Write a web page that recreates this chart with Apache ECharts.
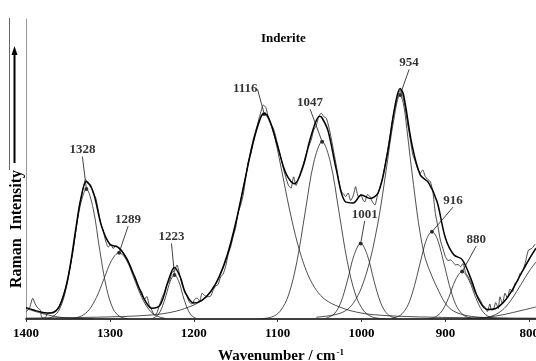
<!DOCTYPE html>
<html>
<head>
<meta charset="utf-8">
<script src="https://cdn.jsdelivr.net/npm/echarts@6/dist/echarts.min.js"></script>
<style>
  html, body { margin: 0; padding: 0; background: #fff; }
  #chart { width: 536px; height: 361px; }
</style>
</head>
<body>
<div id="chart"></div>
<script>
// x axis ticks (wavenumber, cm-1)
const xTicks = [800, 900, 1000, 1100, 1200, 1300, 1400]

// fitted band positions and heights (intensity, arbitrary units)
const peakWn = [1328, 1289, 1223, 1116, 1047, 1001, 954, 916, 880]
const peakHeight = [43.3, 22.1, 14.7, 68.3, 59.1, 25.2, 74.7, 29.1, 15.8]

// measured spectrum [wavenumber, intensity]
const observed = [
  [1400, 2.4], [1396, 3.5], [1392, 6.9], [1389, 5.0], [1386, 3.7], [1383, 3.0], [1381, 0.4], [1377, 0.4],
  [1375, 1.6], [1372, 2.0], [1368, 2.3], [1364, 3.0], [1360, 4.6], [1356, 7.5], [1352, 11.0], [1348, 16.5],
  [1344, 22.5], [1340, 30.5], [1336, 38.0], [1332, 43.5], [1329, 46.5], [1326, 45.0], [1323, 44.8], [1320, 42.0],
  [1317, 40.5], [1314, 36.5], [1311, 32.0], [1308, 29.5], [1305, 26.0], [1302, 24.0], [1299, 24.8], [1296, 23.5],
  [1293, 24.5], [1290, 24.0], [1286, 23.0], [1282, 21.0], [1278, 19.0], [1274, 16.0], [1270, 14.0], [1266, 10.5],
  [1262, 9.0], [1259, 6.5], [1256, 7.5], [1253, 4.5], [1250, 3.0], [1247, 1.3], [1244, 2.0], [1241, 4.5],
  [1238, 7.0], [1235, 9.0], [1232, 11.5], [1229, 12.5], [1226, 15.5], [1223, 16.0], [1220, 18.0], [1217, 15.0],
  [1214, 11.5], [1211, 9.0], [1208, 7.5], [1205, 5.5], [1202, 5.0], [1199, 6.5], [1196, 7.0], [1193, 6.0],
  [1190, 8.6], [1187, 7.8], [1184, 7.4], [1180, 7.6], [1177, 9.5], [1174, 11.0], [1171, 11.5], [1168, 14.0],
  [1165, 15.0], [1162, 17.5], [1159, 21.5], [1156, 24.0], [1153, 27.5], [1150, 30.5], [1147, 35.5], [1144, 38.0],
  [1141, 41.5], [1138, 47.0], [1135, 52.5], [1132, 55.0], [1129, 59.0], [1126, 62.5], [1123, 66.0], [1120, 69.0],
  [1117, 71.3], [1114, 70.5], [1111, 67.0], [1108, 65.0], [1105, 63.5], [1102, 60.5], [1099, 57.0], [1096, 53.5],
  [1093, 50.0], [1090, 47.0], [1087, 44.5], [1084, 43.6], [1081, 47.4], [1078, 44.5], [1075, 47.0], [1072, 49.5],
  [1069, 52.0], [1066, 55.0], [1063, 57.5], [1060, 59.7], [1057, 63.0], [1054, 64.5], [1051, 67.5], [1048, 68.6],
  [1045, 67.5], [1042, 66.9], [1039, 64.0], [1036, 60.0], [1033, 55.5], [1030, 51.0], [1027, 46.0], [1024, 42.5],
  [1021, 41.5], [1019, 40.8], [1016, 42.0], [1013, 39.5], [1010, 41.0], [1007, 44.1], [1004, 40.8], [1001, 41.5],
  [998, 39.5], [996, 39.1], [993, 41.5], [990, 40.8], [987, 39.0], [984, 38.0], [981, 41.3], [978, 44.0],
  [975, 47.0], [972, 51.5], [969, 56.0], [966, 61.0], [963, 66.5], [960, 70.5], [957, 74.0], [954, 76.3],
  [951, 74.5], [948, 70.5], [945, 65.0], [942, 60.0], [939, 55.0], [936, 52.5], [933, 50.0], [930, 48.6],
  [927, 49.7], [924, 47.5], [921, 46.5], [918, 45.8], [915, 42.5], [912, 35.2], [909, 31.0], [906, 26.3],
  [903, 23.5], [900, 20.8], [897, 19.5], [894, 19.7], [891, 19.0], [888, 18.0], [885, 18.2], [882, 17.4],
  [879, 18.5], [876, 15.5], [873, 14.1], [870, 12.5], [867, 10.5], [864, 8.5], [861, 7.4], [858, 6.0],
  [855, 4.5], [853, 4.1], [850, 2.5], [847, 5.0], [845, 3.0], [843, 3.0], [840, 5.5], [837, 3.5],
  [835, 7.4], [832, 5.0], [829, 8.6], [826, 7.0], [823, 10.0], [820, 9.0], [817, 11.9], [814, 12.5],
  [811, 15.2], [808, 16.0], [805, 18.5], [801, 23.0], [797, 23.5], [793, 25.0]
]

// sum of the fitted bands
const fitted = [
  [1400, 3.8], [1390, 2.9], [1380, 2.2], [1370, 2.0], [1360, 4.25], [1350, 13.7], [1340, 31.2], [1335, 39.6],
  [1328, 45.8], [1320, 42.4], [1310, 31.0], [1300, 24.9], [1290, 23.85], [1280, 20.2], [1270, 13.7], [1260, 7.15],
  [1250, 3.6], [1240, 4.7], [1230, 13.1], [1223, 17.2], [1216, 13.9], [1210, 8.8], [1200, 5.3], [1190, 6.3],
  [1180, 9.1], [1170, 13.9], [1160, 21.4], [1150, 32.0], [1140, 45.0], [1130, 58.0], [1120, 67.3], [1116, 68.5],
  [1110, 66.6], [1100, 57.6], [1090, 48.45], [1080, 45.1], [1070, 50.6], [1060, 61.2], [1050, 67.6], [1047, 67.0],
  [1040, 62.8], [1030, 49.7], [1020, 39.3], [1010, 38.7], [1000, 41.3], [990, 40.2], [980, 42.15], [970, 53.85],
  [960, 71.2], [954, 76.85], [950, 74.85], [940, 58.3], [930, 48.05], [920, 45.4], [910, 39.15], [900, 27.0],
  [890, 21.4], [880, 19.8], [870, 13.7], [860, 6.3], [850, 3.15], [840, 3.5], [830, 5.8], [820, 9.8],
  [810, 15.0], [800, 20.0], [792, 23.6]
]

// individual bands
const band1328 = [[1378, 0.1], [1368, 0.8], [1360, 3.3], [1352, 10.3], [1344, 22.8], [1336, 36.9], [1328, 43.3], [1320, 36.9], [1312, 22.8], [1304, 10.3], [1296, 3.3], [1288, 0.8], [1278, 0.1]]
const band1289 = [[1344, 0.2], [1334, 1.0], [1325, 3.0], [1316, 7.2], [1307, 13.4], [1298, 19.5], [1289, 22.1], [1280, 19.5], [1271, 13.4], [1262, 7.2], [1253, 3.0], [1244, 1.0], [1234, 0.2]]
const band1223 = [[1249, 0.2], [1243, 1.25], [1238, 3.7], [1233, 7.9], [1228, 12.6], [1223, 14.7], [1218, 12.6], [1213, 7.9], [1208, 3.7], [1203, 1.25], [1197, 0.2]]
const band1116 = [
  [1400, 0.3], [1366, 0.4], [1316, 0.6], [1286, 0.82], [1266, 1.05], [1246, 1.45], [1236, 1.8], [1226, 2.3],
  [1216, 3.0], [1206, 4.0], [1196, 5.2], [1186, 7.1], [1176, 10.5], [1166, 16.2], [1156, 24.9], [1146, 36.7],
  [1136, 50.6], [1126, 63.0], [1116, 68.3], [1106, 63.0], [1096, 50.6], [1086, 36.7], [1076, 24.9], [1066, 16.2],
  [1056, 10.5], [1046, 7.1], [1036, 5.2], [1026, 4.0], [1016, 3.0], [1006, 2.3], [996, 1.8], [986, 1.45],
  [966, 1.05], [946, 0.82], [916, 0.6], [866, 0.4], [792, 0.28]
]
const band1047 = [[1122, 0.05], [1107, 0.66], [1097, 2.6], [1087, 8.0], [1077, 19.2], [1067, 35.9], [1057, 52.1], [1047, 59.1], [1037, 52.1], [1027, 35.9], [1017, 19.2], [1007, 8.0], [997, 2.6], [987, 0.66], [972, 0.05]]
const band1001 = [[1043, 0.2], [1033, 1.6], [1025, 5.3], [1017, 12.6], [1009, 21.2], [1001, 25.2], [993, 21.2], [985, 12.6], [977, 5.3], [969, 1.6], [959, 0.2]]
const band954 = [
  [1054, 0.6], [1034, 1.3], [1020, 2.6], [1010, 5.2], [1000, 10.5], [990, 19.4], [984, 26.9], [978, 35.9],
  [970, 50.8], [962, 65.7], [954, 74.7], [950, 71.7], [946, 63.5], [942, 53.8], [938, 44.8], [934, 35.9],
  [930, 28.4], [924, 20.2], [916, 14.2], [910, 10.5], [900, 5.2], [890, 2.6], [874, 1.1], [854, 0.5], [824, 0.2]
]
const band916 = [[964, 0.17], [954, 1.2], [946, 3.9], [940, 8.1], [934, 14.2], [928, 21.1], [922, 26.9], [916, 29.1], [910, 26.9], [904, 21.1], [898, 14.2], [892, 8.1], [886, 3.9], [878, 1.2], [868, 0.17]]
const band880 = [[920, 0.1], [912, 0.7], [904, 2.7], [896, 7.2], [888, 13.0], [880, 15.8], [872, 13.0], [864, 7.2], [856, 2.7], [848, 0.7], [840, 0.1]]
const bandLow = [[860, 0], [850, 0.5], [840, 1.5], [830, 3.5], [820, 7.0], [810, 11.5], [800, 16.0], [792, 19.0]]
const backgroundRight = [[880, 0.1], [870, 0.2], [850, 0.6], [830, 1.5], [810, 2.8], [792, 4.0]]
const backgroundLeft = [[1400, 3.5], [1390, 2.6], [1380, 1.8], [1370, 1.1], [1360, 0.6], [1350, 0.35], [1340, 0.15], [1330, 0.05], [1320, 0]]

const bands = [band1328, band1289, band1223, band1116, band1047, band1001, band954, band916, band880, bandLow, backgroundRight, backgroundLeft]

const serif = '"Liberation Serif", "DejaVu Serif", serif'

// label offsets from the band maximum, px
const labelShift = [[-4, -39], [9, -33], [-3, -38], [-19, -25], [-12, -39], [4, -29], [9, -32], [21, -31], [14, -32]]

const option = {
  animation: false,
  title: {
    text: 'Inderite',
    left: 261,
    top: 32,
    padding: 0,
    textStyle: { fontFamily: serif, fontSize: 13, fontWeight: 'bold', color: '#000' },
  },
  grid: { left: 26, right: 0, top: 19, bottom: 42, containLabel: false, outerBoundsMode: 'none' },
  xAxis: {
    type: 'value',
    inverse: true,
    min: 792,
    max: 1400,
    name: 'Wavenumber / cm{sup|-1}',
    nameLocation: 'middle',
    nameGap: 29,
    nameTextStyle: {
      fontFamily: serif,
      fontSize: 15,
      fontWeight: 'bold',
      color: '#000',
      rich: {
        sup: { fontFamily: serif, fontSize: 9, fontWeight: 'bold', color: '#000', verticalAlign: 'top', padding: [0, 0, 8, 1] },
      },
    },
    axisLine: { lineStyle: { color: '#000', width: 1.6 } },
    axisTick: { show: true, length: 3, customValues: xTicks, lineStyle: { color: '#333' } },
    axisLabel: {
      customValues: xTicks,
      formatter: v => String(v),
      showMinLabel: true,
      showMaxLabel: true,
      margin: 8,
      fontFamily: serif,
      fontSize: 13,
      fontWeight: 'bold',
      color: '#000',
    },
    splitLine: { show: false },
  },
  yAxis: {
    type: 'value',
    min: 0,
    max: 100,
    axisLine: { show: true, lineStyle: { color: '#999', width: 1 } },
    axisTick: { show: false },
    axisLabel: { show: false },
    splitLine: { show: false },
  },
  graphic: [
    { type: 'line', shape: { x1: 9.5, y1: 18, x2: 9.5, y2: 170 }, style: { stroke: '#666', lineWidth: 1 } },
    { type: 'line', shape: { x1: 14.5, y1: 163, x2: 14.5, y2: 53 }, style: { stroke: '#000', lineWidth: 2 } },
    { type: 'polygon', shape: { points: [[14.5, 46], [11.5, 55], [17.5, 55]] }, style: { fill: '#000' } },
    {
      type: 'text',
      x: 17,
      y: 229,
      rotation: Math.PI / 2,
      style: {
        text: 'Raman  Intensity',
        font: 'bold 16px ' + serif,
        fill: '#000',
        align: 'center',
        verticalAlign: 'middle',
      },
    },
  ],
  series: [
    ...bands.map(b => ({
      type: 'line',
      data: b,
      smooth: 0.35,
      showSymbol: false,
      silent: true,
      lineStyle: { color: '#222', width: 0.8 },
    })),
    {
      name: 'observed',
      type: 'line',
      data: observed,
      smooth: 0.2,
      showSymbol: false,
      silent: true,
      lineStyle: { color: '#333', width: 0.9 },
    },
    {
      name: 'fitted',
      type: 'line',
      data: fitted,
      smooth: 0.35,
      showSymbol: false,
      silent: true,
      lineStyle: { color: '#000', width: 1.5 },
    },
    {
      name: 'peaks',
      type: 'scatter',
      data: peakWn.map((w, i) => [w, peakHeight[i]]),
      symbol: 'circle',
      symbolSize: 4,
      itemStyle: { color: '#000' },
      label: {
        show: true,
        position: 'inside',
        formatter: p => String(p.value[0]),
        fontFamily: serif,
        fontSize: 13,
        fontWeight: 'bold',
        color: '#000',
      },
      labelLine: { show: true, lineStyle: { color: '#111', width: 0.8 } },
      labelLayout: p => ({ dx: labelShift[p.dataIndex][0], dy: labelShift[p.dataIndex][1] }),
    },
  ],
}

const chart = echarts.init(document.getElementById('chart'))
chart.setOption(option)
</script>
</body>
</html>
